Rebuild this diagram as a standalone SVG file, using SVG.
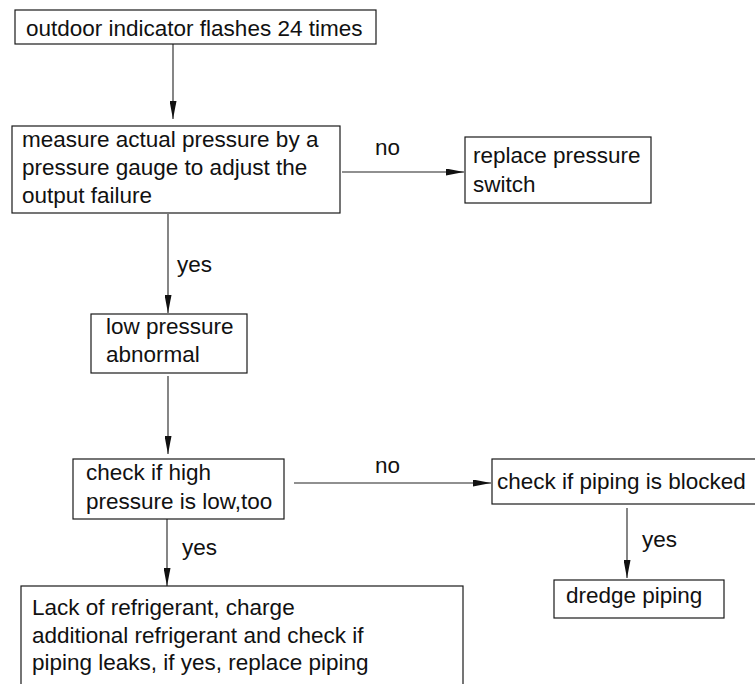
<svg xmlns="http://www.w3.org/2000/svg" width="755" height="684" viewBox="0 0 755 684">
  <defs>
    <marker id="arrow" viewBox="0 0 18 7" markerWidth="18" markerHeight="7" refX="18" refY="3.5" orient="auto" markerUnits="userSpaceOnUse">
      <path d="M0,0 L18,3.5 L0,7 Z" fill="#111"/>
    </marker>
    <style>
      .box { fill: #fff; stroke: #1a1a1a; stroke-width: 1.2; }
      .t { font-family: "Liberation Sans", Arial, sans-serif; font-size: 22.5px; fill: #111; }
      .edge { fill: none; stroke: #222; stroke-width: 1.1; marker-end: url(#arrow); }
    </style>
  </defs>
  <rect width="755" height="684" fill="#fff"/>

  <g id="connectors">
    <line class="edge" x1="173" y1="44" x2="173" y2="119"/>
    <line class="edge" x1="342" y1="172" x2="464" y2="172"/>
    <line class="edge" x1="168" y1="214" x2="168" y2="313"/>
    <line class="edge" x1="168" y1="376" x2="168" y2="454"/>
    <line class="edge" x1="294" y1="483" x2="491" y2="483"/>
    <line class="edge" x1="167" y1="519" x2="167" y2="586"/>
    <line class="edge" x1="627" y1="508" x2="627" y2="578"/>
    <text class="t" x="375" y="155">no</text>
    <text class="t" x="177" y="272">yes</text>
    <text class="t" x="375" y="473">no</text>
    <text class="t" x="182" y="555">yes</text>
    <text class="t" x="642" y="547">yes</text>
  </g>

  <g id="n-start">
    <rect class="box" x="15" y="10" width="361" height="34"/>
    <text class="t" x="26" y="36">outdoor indicator flashes 24 times</text>
  </g>

  <g id="n-measure">
    <rect class="box" x="12" y="126" width="328" height="87"/>
    <text class="t" x="22" y="147">measure actual pressure by a</text>
    <text class="t" x="22" y="175">pressure gauge to adjust the</text>
    <text class="t" x="22" y="203">output failure</text>
  </g>

  <g id="n-replace-switch">
    <rect class="box" x="465" y="137" width="186" height="66"/>
    <text class="t" x="473" y="163">replace pressure</text>
    <text class="t" x="473" y="192">switch</text>
  </g>

  <g id="n-low-pressure">
    <rect class="box" x="91" y="314" width="156" height="59"/>
    <text class="t" x="106" y="334">low pressure</text>
    <text class="t" x="106" y="362">abnormal</text>
  </g>

  <g id="n-check-high">
    <rect class="box" x="73" y="459" width="211" height="60"/>
    <text class="t" x="86" y="480">check if high</text>
    <text class="t" x="86" y="509">pressure is low,too</text>
  </g>

  <g id="n-check-blocked">
    <rect class="box" x="492" y="459" width="266" height="45"/>
    <text class="t" x="497" y="489">check if piping is blocked</text>
  </g>

  <g id="n-dredge">
    <rect class="box" x="554" y="580" width="170" height="38"/>
    <text class="t" x="566" y="603">dredge piping</text>
  </g>

  <g id="n-refrigerant">
    <rect class="box" x="21" y="586" width="442" height="110"/>
    <text class="t" x="32" y="615">Lack of refrigerant, charge</text>
    <text class="t" x="32" y="643">additional refrigerant and check if</text>
    <text class="t" x="32" y="670">piping leaks, if yes, replace piping</text>
  </g>
</svg>
